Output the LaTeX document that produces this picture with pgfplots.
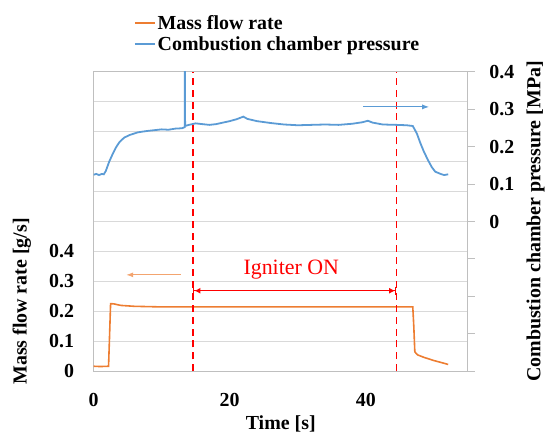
\documentclass[border=0pt]{standalone}
\usepackage{fontspec}
\setmainfont{Liberation Serif}
\usepackage{pgfplots}
\pgfplotsset{compat=1.18}
\usetikzlibrary{arrows.meta}
\definecolor{mforange}{HTML}{ED7D31}
\definecolor{ccblue}{HTML}{5B9BD5}
\definecolor{gridgray}{HTML}{D9D9D9}
\definecolor{axgray}{HTML}{BFBFBF}
\newcommand{\bigfont}{\fontsize{20}{22}\selectfont\bfseries}
\begin{document}
\begin{tikzpicture}
\begin{axis}[
  scale only axis, width=376pt, height=301pt, at={(0pt,0pt)}, anchor=south west,
  /pgf/number format/assume math mode=true,
  xmin=0, xmax=55, ymin=0, ymax=1,
  xtick={0,20,40}, xticklabels={0,20,40},
  ytick={0,0.1,0.2,0.3,0.4,0.5,0.6,0.7,0.8,0.9,1},
  yticklabels={0,0.1,0.2,0.3,0.4,,,,,,},
  major tick length=0pt,
  ymajorgrids, grid style={gridgray, line width=1.2pt},
  axis line style={axgray, line width=1pt},
  tick label style={font=\bigfont},
  xticklabel shift=18pt, yticklabel shift=16pt,
  label style={font=\bigfont},
  xlabel={Time [s]}, ylabel={Mass flow rate [g/s]},
  xlabel style={at={(rel axis cs:0.5,-0.175)}, anchor=center},
  ylabel style={at={(rel axis cs:-0.1915,0.233)}, anchor=center},
  clip mode=individual,
  legend style={draw=none, fill=none, font=\bigfont, at={(rel axis cs:0.1,1.203)}, anchor=north west, row sep=2pt},
  legend cell align=left,
  legend image code/.code={\draw[#1] (0pt,0pt) -- (20pt,0pt);},
]
\addplot[mforange, line width=1.6pt] coordinates {
(0,0.017) (1.0,0.016) (2.2,0.017) (2.35,0.12) (2.5,0.226) (3.0,0.225) (4.0,0.220)
(6.0,0.217) (10,0.215) (20,0.215) (30,0.215) (40,0.215) (46.9,0.215)
(47.05,0.15) (47.2,0.065) (47.6,0.055) (48.5,0.047) (50,0.036) (51,0.030) (52.1,0.023)};
\addlegendentry{Mass flow rate}
\addlegendimage{ccblue, line width=1.6pt}
\addlegendentry{Combustion chamber pressure}
\addplot[red, line width=1.8pt, dash pattern=on 7pt off 5pt, forget plot] coordinates {(14.6,0) (14.6,1)};
\addplot[red, line width=1.8pt, dash pattern=on 7pt off 5pt, forget plot] coordinates {(44.5,0) (44.5,1)};
\draw[mforange!70, line width=0.9pt, -{Latex[length=7pt,width=5pt]}] (axis cs:12.8,0.322) -- (axis cs:4.8,0.322);
\draw[red, line width=1.4pt, {Bar[width=8pt]Latex[length=6pt,width=6pt]}-{Latex[length=6pt,width=6pt]Bar[width=8pt]}] (axis cs:14.6,0.269) -- (axis cs:44.5,0.269);
\node[red, font=\fontsize{22}{24}\selectfont] at (axis cs:29.05,0.339) {Igniter ON};
\end{axis}
\begin{axis}[
  scale only axis, width=376pt, height=301pt, at={(0pt,0pt)}, anchor=south west,
  /pgf/number format/assume math mode=true,
  xmin=0, xmax=55, ymin=-0.4, ymax=0.4,
  axis x line=none, axis y line*=right,
  ytick={-0.4,-0.3,-0.2,-0.1,0,0.1,0.2,0.3,0.4},
  yticklabels={,,,,0,0.1,0.2,0.3,0.4},
  tick align=outside, major tick length=7pt,
  tick style={axgray, line width=1pt},
  axis line style={axgray, line width=1pt},
  tick label style={font=\bigfont},
  yticklabel shift=11pt,
  label style={font=\bigfont},
  ylabel={Combustion chamber pressure [MPa]},
  ylabel style={at={(rel axis cs:1.181,0.5)}, anchor=center},
  clip mode=individual,
]
\addplot[ccblue, line width=1.8pt] coordinates {
(0,0.125) (0.4,0.127) (0.8,0.124) (1.2,0.127) (1.5,0.126) (1.8,0.135) (2.3,0.160)
(2.8,0.180) (3.3,0.198) (3.8,0.212) (4.5,0.224) (5.3,0.231) (6.5,0.238) (7.2,0.240)
(8.0,0.242) (9,0.244) (10,0.246) (11,0.245) (12,0.248) (13.0,0.249) (13.4,0.252)
(13.4,0.5) (13.45,0.255) (14.0,0.258) (15.0,0.262) (16.0,0.260) (17,0.258) (18,0.260)
(19,0.264) (20,0.268) (21,0.273) (22.0,0.280) (22.6,0.274) (24,0.268) (26,0.263)
(28,0.259) (30,0.257) (32,0.258) (34,0.259) (36,0.258) (38,0.261) (39.5,0.265)
(40.3,0.269) (41,0.264) (42.5,0.259) (44.5,0.258) (46.0,0.257) (46.9,0.255)
(47.5,0.235) (48.0,0.210) (48.5,0.188) (49.1,0.165) (49.7,0.145) (50.2,0.133)
(51.0,0.127) (51.5,0.124) (52.1,0.126)};
\draw[ccblue, line width=0.9pt, -{Latex[length=7pt,width=5pt]}] (axis cs:39.6,0.306) -- (axis cs:49.3,0.306);
\end{axis}
\path (-94pt,-59pt) rectangle (454pt,373pt);
\end{tikzpicture}
\end{document}
